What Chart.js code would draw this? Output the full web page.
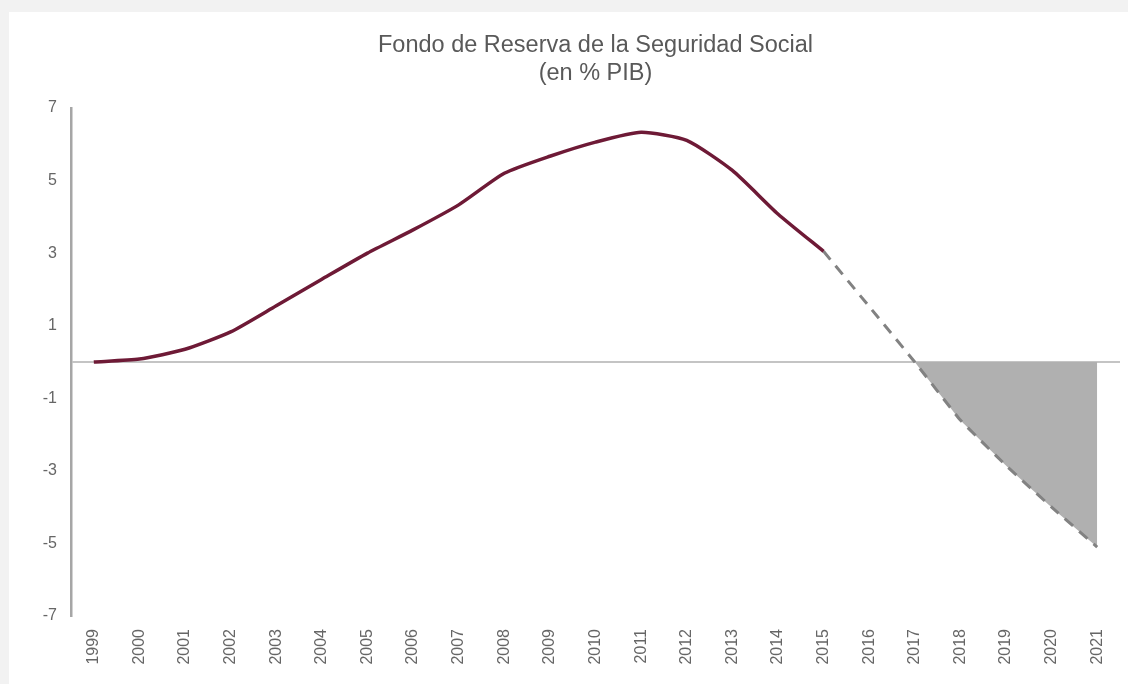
<!DOCTYPE html>
<html>
<head>
<meta charset="utf-8">
<script src="https://cdn.jsdelivr.net/npm/chart.js@4/dist/chart.umd.min.js"></script>
<style>
  html, body { margin: 0; padding: 0; background: #f2f2f2; }
  body { width: 1128px; height: 684px; overflow: hidden; position: relative; }
  #panel { position: absolute; left: 9px; top: 12px; width: 1119px; height: 672px; background: #fff; }
</style>
</head>
<body>
<div id="panel"><canvas id="fondoChart"></canvas></div>
<script>
const years = ['1999', '2000', '2001', '2002', '2003', '2004', '2005', '2006', '2007', '2008', '2009',
  '2010', '2011', '2012', '2013', '2014', '2015', '2016', '2017', '2018', '2019', '2020', '2021'];

// datos observados 1999-2015
const fondoReal = [0.0, 0.08, 0.35, 0.83, 1.55, 2.28, 3.0, 3.64, 4.33, 5.2, 5.67,
  6.06, 6.33, 6.11, 5.28, 4.08, 3.05];

// proyeccion 2015-2021
const proyeccion = [3.05, 1.53, 0.0, -1.6, -2.85, -4.0, -5.1];

const yTicks = [-7, -5, -3, -1, 1, 3, 5, 7];

const startProy = years.indexOf('2015');
const startDeficit = years.indexOf('2017');

const serieReal = years.map((y, i) => (i < fondoReal.length ? fondoReal[i] : null));
const serieProy = years.map((y, i) => (i >= startProy ? proyeccion[i - startProy] : null));
const serieDeficit = years.map((y, i) => (i >= startDeficit ? proyeccion[i - startProy] : null));

const fontFamily = 'Liberation Sans, Arial, sans-serif';
const ctx = document.querySelector('#fondoChart').getContext('2d');

new Chart(ctx, {
  type: 'line',
  data: {
    labels: years,
    datasets: [
      {
        data: serieReal,
        borderColor: '#6e1a36',
        borderWidth: 3.5,
        pointRadius: 0,
        tension: 0.2,
        fill: false,
      },
      {
        data: serieProy,
        borderColor: '#828282',
        borderWidth: 3,
        borderDash: [11, 8],
        pointRadius: 0,
        tension: 0.1,
        fill: false,
      },
      {
        data: serieDeficit,
        borderWidth: 0,
        borderColor: 'rgba(0,0,0,0)',
        backgroundColor: '#b0b0b0',
        pointRadius: 0,
        tension: 0.1,
        fill: 'origin',
      },
    ],
  },
  options: {
    responsive: true,
    maintainAspectRatio: false,
    animation: false,
    layout: { padding: { right: 8, left: 0, bottom: 0 } },
    plugins: {
      legend: { display: false },
      tooltip: { enabled: false },
      title: {
        display: true,
        fullSize: false,
        text: ['Fondo de Reserva de la Seguridad Social', '(en % PIB)'],
        color: '#595959',
        font: { family: fontFamily, size: 23.5, weight: 'normal', lineHeight: '28px' },
        padding: { top: 20, bottom: 20 },
      },
    },
    scales: {
      x: {
        offset: true,
        grid: { display: false },
        border: { display: false },
        ticks: {
          minRotation: 90,
          maxRotation: 90,
          autoSkip: false,
          padding: 5,
          color: '#666',
          font: { family: fontFamily, size: 16 },
        },
        afterFit: (scale) => { scale.height = 68; },
      },
      y: {
        min: -7,
        max: 7,
        afterBuildTicks: (scale) => {
          scale.ticks = [0, ...yTicks].map((v) => ({ value: v }));
        },
        ticks: {
          padding: 14,
          color: '#666',
          font: { family: fontFamily, size: 16 },
          callback: (v) => (v === 0 ? '' : v),
        },
        grid: {
          drawTicks: false,
          lineWidth: 2,
          color: (c) => (c.tick && c.tick.value === 0 ? '#c4c4c4' : 'rgba(0,0,0,0)'),
        },
        border: { display: true, color: '#a6a6a6', width: 2.5 },
        afterFit: (scale) => { scale.width = 62; },
      },
    },
  },
});
</script>
</body>
</html>
